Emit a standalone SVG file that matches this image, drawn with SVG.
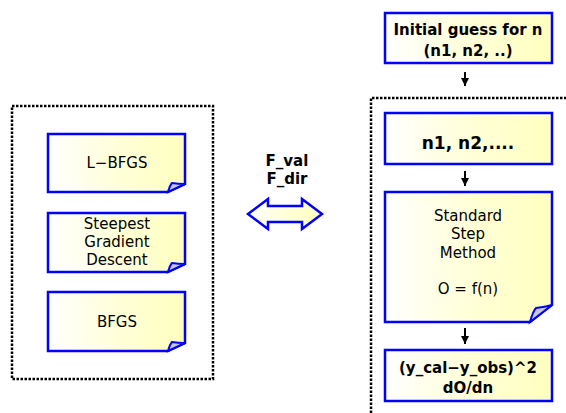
<svg xmlns="http://www.w3.org/2000/svg" width="566" height="413" viewBox="0 0 566 413">
<defs>
<linearGradient id="fillg" x1="0" y1="0" x2="1" y2="0">
<stop offset="0" stop-color="#ffffff"/>
<stop offset="0.5" stop-color="#ffffd8"/>
<stop offset="1" stop-color="#ffffc0"/>
</linearGradient>
<marker id="ah" viewBox="0 0 10 10" refX="10" refY="5" markerWidth="8" markerHeight="8" orient="auto" markerUnits="userSpaceOnUse">
<path d="M0,0 L10,5 L0,10 Z" fill="#000"/>
</marker>
</defs>
<style>
.box{fill:url(#fillg);stroke:#0000ff;stroke-width:2.5;stroke-linejoin:miter}
.flap{fill:#c8c8d8;stroke:#0000ff;stroke-width:2}
.dot{fill:none;stroke:#000;stroke-width:2.5;stroke-dasharray:2.5 1.5}
.t{font-family:"DejaVu Sans","Liberation Sans",sans-serif;font-size:15px;fill:#000;text-anchor:middle}
.b{font-family:"DejaVu Sans","Liberation Sans",sans-serif;font-size:15px;font-weight:bold;fill:#000;text-anchor:middle}
.ar{stroke:#000;stroke-width:2;fill:none}
</style>
<rect class="dot" x="12" y="106" width="201" height="273"/>
<path class="dot" d="M371,413 L371,98 L570,98"/>
<g id="lbfgs">
<path class="box" d="M48,134 H185 V184 L168,192 H48 Z"/>
<path class="flap" d="M168,192 Q170,185 172,183 Q178,184 185,184 Z"/>
<text class="t" x="117" y="168">L−BFGS</text>
</g>
<g id="steepest">
<path class="box" d="M48,213 H185 V264 L168,272 H48 Z"/>
<path class="flap" d="M168,272 Q170,265 172,263 Q178,264 185,264 Z"/>
<text class="t" x="117" y="229">Steepest</text>
<text class="t" x="117" y="247">Gradient</text>
<text class="t" x="117" y="265">Descent</text>
</g>
<g id="bfgs">
<path class="box" d="M48,292 H185 V343 L168,351 H48 Z"/>
<path class="flap" d="M168,351 Q170,344 172,342 Q178,343 185,343 Z"/>
<text class="t" x="117" y="327">BFGS</text>
</g>
<g id="fvals">
<text class="b" x="287" y="166">F_val</text>
<text class="b" x="287" y="184">F_dir</text>
<path d="M248,214 L268,199 V206 H302 V199 L322,214 L302,229 V222 H268 V229 Z" fill="url(#fillg)" stroke="#0000ff" stroke-width="2.5" stroke-linejoin="miter"/>
</g>
<g id="initial">
<rect class="box" x="385" y="13" width="167" height="50"/>
<text class="b" x="468" y="35">Initial guess for n</text>
<text class="b" x="468" y="56">(n1, n2, ..)</text>
</g>
<g id="n1n2">
<rect class="box" x="385" y="113" width="167" height="51"/>
<text class="b" x="468" y="149" style="font-size:17px">n1, n2,....</text>
</g>
<g id="standard">
<path class="box" d="M385,192 H552 V305 L530,322 H385 Z"/>
<path class="flap" d="M530,322 Q533,311 536,308 Q545,307 552,305 Z"/>
<text class="t" x="468" y="221">Standard</text>
<text class="t" x="468" y="239">Step</text>
<text class="t" x="468" y="258">Method</text>
<text class="t" x="468" y="294">O = f(n)</text>
</g>
<g id="ycal">
<rect class="box" x="385" y="350" width="167" height="51"/>
<text class="b" x="468" y="373">(y_cal−y_obs)^2</text>
<text class="b" x="468" y="393">dO/dn</text>
</g>
<g id="connectors">
<line class="ar" x1="465" y1="72" x2="465" y2="86" marker-end="url(#ah)"/>
<line class="ar" x1="465" y1="171" x2="465" y2="186" marker-end="url(#ah)"/>
<line class="ar" x1="465" y1="328" x2="465" y2="344" marker-end="url(#ah)"/>
</g>
</svg>
